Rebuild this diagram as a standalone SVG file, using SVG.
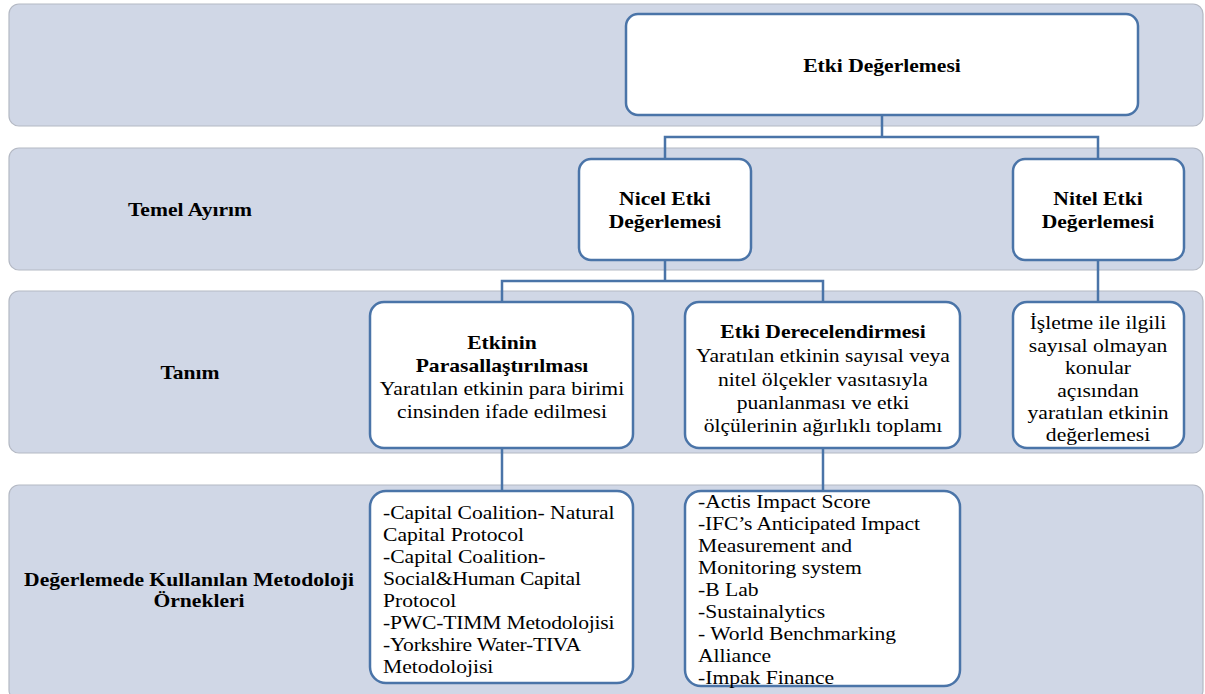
<svg xmlns="http://www.w3.org/2000/svg" width="1205" height="694" viewBox="0 0 1205 694">
<style>
.band{fill:#D0D7E6;stroke:#B4B9C4;stroke-width:1.2}
.box{fill:#FFFFFF;stroke:#4A74A8;stroke-width:2.5}
.conn{fill:none;stroke:#4A74A8;stroke-width:2.5}
text{font-family:"Liberation Serif","Times New Roman",serif;fill:#000;font-size:18px}
.b{font-weight:bold}
.m{text-anchor:middle}
</style>
<rect width="1205" height="694" fill="#FFFFFF"/>
<g id="bands">
<rect class="band" x="9" y="4" width="1194" height="122" rx="10"/>
<rect class="band" x="9" y="148" width="1194" height="122" rx="10"/>
<rect class="band" x="9" y="291" width="1194" height="162" rx="10"/>
<rect class="band" x="9" y="485" width="1194" height="215" rx="10"/>
</g>
<g id="row-labels">
<g transform="translate(190,0) scale(1.2,1)"><text class="b m" x="0" y="216">Temel Ayırım</text></g>
<g transform="translate(190,0) scale(1.2,1)"><text class="b m" x="0" y="379">Tanım</text></g>
<g transform="translate(189,0) scale(1.2,1)"><text class="b m" x="0" y="586">Değerlemede Kullanılan  Metodoloji</text></g>
<g transform="translate(199,0) scale(1.2,1)"><text class="b m" x="0" y="607">Örnekleri</text></g>
</g>
<g id="connectors">
<path class="conn" d="M882 115 V137 M665 159 V137 H1098 V159"/>
<path class="conn" d="M665 260 V281 M502 302 V281 H823 V302"/>
<path class="conn" d="M1098 260 V302"/>
<path class="conn" d="M502 448 V491"/>
<path class="conn" d="M823 448 V491"/>
</g>
<g id="etki-degerlemesi">
<rect class="box" x="626" y="14" width="512" height="101" rx="12"/>
<g transform="translate(882,0) scale(1.2,1)"><text class="b m" x="0" y="72">Etki Değerlemesi</text></g>
</g>
<g id="nicel">
<rect class="box" x="579" y="159" width="172" height="101" rx="12"/>
<g transform="translate(665,0) scale(1.2,1)">
<text class="b m" x="0" y="205">Nicel Etki</text>
<text class="b m" x="0" y="228">Değerlemesi</text>
</g>
</g>
<g id="nitel">
<rect class="box" x="1013" y="159" width="171" height="101" rx="12"/>
<g transform="translate(1098,0) scale(1.2,1)">
<text class="b m" x="0" y="205">Nitel Etki</text>
<text class="b m" x="0" y="228">Değerlemesi</text>
</g>
</g>
<g id="parasallastirma">
<rect class="box" x="370" y="302" width="263" height="146" rx="14"/>
<g transform="translate(502,0) scale(1.2,1)">
<text class="b m" x="0" y="349">Etkinin</text>
<text class="b m" x="0" y="372">Parasallaştırılması</text>
<text class="m" x="0" y="395">Yaratılan etkinin para birimi</text>
<text class="m" x="0" y="418">cinsinden ifade edilmesi</text>
</g>
</g>
<g id="derecelendirme">
<rect class="box" x="685" y="302" width="275" height="146" rx="14"/>
<g transform="translate(823,0) scale(1.2,1)">
<text class="b m" x="0" y="338">Etki Derecelendirmesi</text>
<text class="m" x="0" y="362">Yaratılan etkinin sayısal veya</text>
<text class="m" x="0" y="386">nitel ölçekler vasıtasıyla</text>
<text class="m" x="0" y="409">puanlanması ve etki</text>
<text class="m" x="0" y="432">ölçülerinin ağırlıklı toplamı</text>
</g>
</g>
<g id="nitel-tanim">
<rect class="box" x="1013" y="302" width="171" height="146" rx="14"/>
<g transform="translate(1098,0) scale(1.2,1)">
<text class="m" x="0" y="329">İşletme ile ilgili</text>
<text class="m" x="0" y="352">sayısal olmayan</text>
<text class="m" x="0" y="374">konular</text>
<text class="m" x="0" y="397">açısından</text>
<text class="m" x="0" y="419">yaratılan etkinin</text>
<text class="m" x="0" y="441">değerlemesi</text>
</g>
</g>
<g id="parasal-ornekler">
<rect class="box" x="370" y="491" width="263" height="192" rx="16"/>
<g transform="translate(383,0) scale(1.2,1)">
<text x="0" y="519" textLength="193" lengthAdjust="spacing">-Capital Coalition- Natural</text>
<text x="0" y="541">Capital Protocol</text>
<text x="0" y="563">-Capital Coalition-</text>
<text x="0" y="585" textLength="165" lengthAdjust="spacing">Social&amp;Human Capital</text>
<text x="0" y="607">Protocol</text>
<text x="0" y="629" textLength="193" lengthAdjust="spacing">-PWC-TIMM Metodolojisi</text>
<text x="0" y="651" textLength="165" lengthAdjust="spacing">-Yorkshire Water-TIVA</text>
<text x="0" y="673">Metodolojisi</text>
</g>
</g>
<g id="derece-ornekler">
<rect class="box" x="685" y="491" width="275" height="195" rx="16"/>
<g transform="translate(698,0) scale(1.2,1)">
<text x="0" y="508">-Actis Impact Score</text>
<text x="0" y="530" textLength="185" lengthAdjust="spacing">-IFC’s Anticipated Impact</text>
<text x="0" y="552">Measurement and</text>
<text x="0" y="574">Monitoring system</text>
<text x="0" y="596">-B Lab</text>
<text x="0" y="618">-Sustainalytics</text>
<text x="0" y="640">- World Benchmarking</text>
<text x="0" y="662">Alliance</text>
<text x="0" y="684">-Impak Finance</text>
</g>
</g>
</svg>
